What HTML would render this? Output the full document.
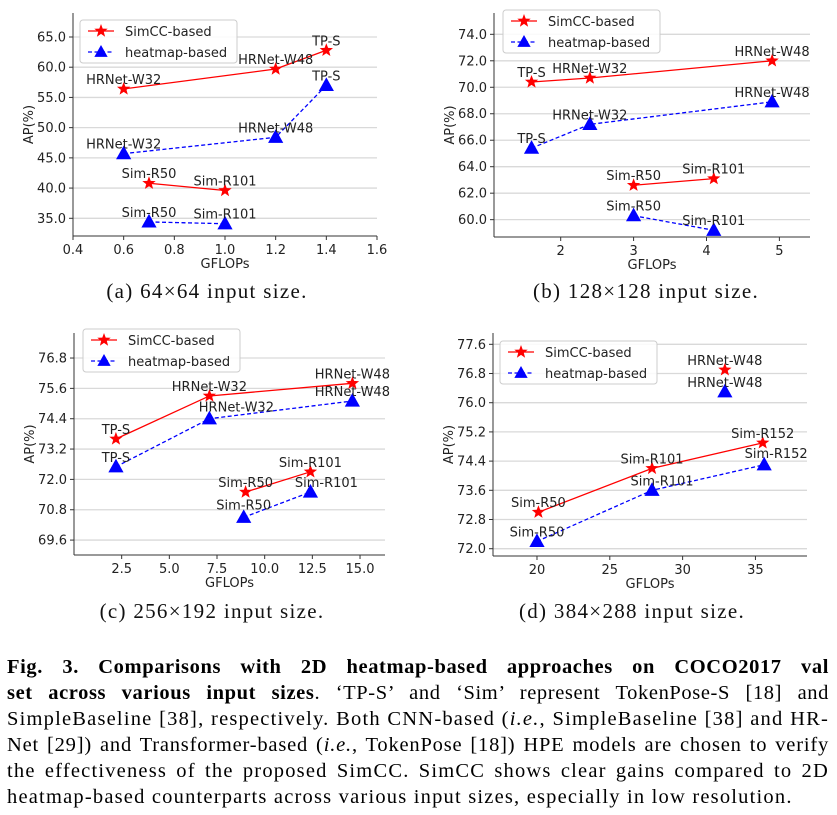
<!DOCTYPE html>
<html><head><meta charset="utf-8"><style>
html,body{margin:0;padding:0;background:#fff;}
body{width:837px;height:815px;position:relative;overflow:hidden;}
#charts{position:absolute;left:0;top:0;}
.cap{position:absolute;left:7px;width:822px;font-family:"Liberation Serif",serif;font-size:20.5px;letter-spacing:1.2px;line-height:26px;white-space:nowrap;text-align:justify;text-align-last:justify;}
.cap.last{text-align:left;text-align-last:left;}
</style></head><body>
<svg id="charts" width="837" height="640" xmlns="http://www.w3.org/2000/svg"></svg>
<div class="cap" style="top:654px;letter-spacing:0.6px"><b>Fig. 3. Comparisons with 2D heatmap-based approaches on COCO2017 val</b></div>
<div class="cap" style="top:680px;letter-spacing:0.6px"><b>set across various input sizes</b>. ‘TP-S’ and ‘Sim’ represent TokenPose-S [18] and</div>
<div class="cap" style="top:706px">SimpleBaseline [38], respectively. Both CNN-based (<i>i.e.</i>, SimpleBaseline [38] and HR-</div>
<div class="cap" style="top:732px;letter-spacing:0.8px">Net [29]) and Transformer-based (<i>i.e.</i>, TokenPose [18]) HPE models are chosen to verify</div>
<div class="cap" style="top:758px">the effectiveness of the proposed SimCC. SimCC shows clear gains compared to 2D</div>
<div class="cap last" style="top:784px">heatmap-based counterparts across various input sizes, especially in low resolution.</div>
<script>
// ---- data ----
const aSimX=[[0.6,1.2,1.4],[0.7,1.0]];
const aSimY=[[56.4,59.7,62.8],[40.8,39.6]];
const aSimN=[["HRNet-W32","HRNet-W48","TP-S"],["Sim-R50","Sim-R101"]];
const aHmX=[[0.6,1.2,1.4],[0.7,1.0]];
const aHmY=[[45.7,48.4,57.0],[34.4,34.1]];
const aHmN=[["HRNet-W32","HRNet-W48","TP-S"],["Sim-R50","Sim-R101"]];
const aXT=["0.4","0.6","0.8","1.0","1.2","1.4","1.6"];
const aYT=["35.0","40.0","45.0","50.0","55.0","60.0","65.0"];

const bSimX=[[1.6,2.4,4.9],[3.0,4.1]];
const bSimY=[[70.4,70.7,72.0],[62.6,63.1]];
const bSimN=[["TP-S","HRNet-W32","HRNet-W48"],["Sim-R50","Sim-R101"]];
const bHmX=[[1.6,2.4,4.9],[3.0,4.1]];
const bHmY=[[65.4,67.2,68.9],[60.3,59.2]];
const bHmN=[["TP-S","HRNet-W32","HRNet-W48"],["Sim-R50","Sim-R101"]];
const bXT=["2","3","4","5"];
const bYT=["60.0","62.0","64.0","66.0","68.0","70.0","72.0","74.0"];

const cSimX=[[2.2,7.1,14.6],[9.0,12.4]];
const cSimY=[[73.6,75.3,75.8],[71.5,72.3]];
const cSimN=[["TP-S","HRNet-W32","HRNet-W48"],["Sim-R50","Sim-R101"]];
const cHmX=[[2.2,7.1,14.6],[8.9,12.4]];
const cHmY=[[72.5,74.4,75.1],[70.5,71.5]];
const cHmN=[["TP-S","HRNet-W32","HRNet-W48"],["Sim-R50","Sim-R101"]];
const cXT=["2.5","5.0","7.5","10.0","12.5","15.0"];
const cYT=["69.6","70.8","72.0","73.2","74.4","75.6","76.8"];

const dSimX=[[20.1,27.9,35.5],[32.9]];
const dSimY=[[73.0,74.2,74.9],[76.9]];
const dSimN=[["Sim-R50","Sim-R101","Sim-R152"],["HRNet-W48"]];
const dHmX=[[20.0,27.9,35.6],[32.9]];
const dHmY=[[72.2,73.6,74.3],[76.3]];
const dHmN=[["Sim-R50","Sim-R101","Sim-R152"],["HRNet-W48"]];
const dXT=["20","25","30","35"];
const dYT=["72.0","72.8","73.6","74.4","75.2","76.0","76.8","77.6"];

const NS="http://www.w3.org/2000/svg";
const svg=document.getElementById('charts');
function el(tag,attrs,parent){const e=document.createElementNS(NS,tag);for(const k in attrs)e.setAttribute(k,attrs[k]);(parent||svg).appendChild(e);return e;}
function starPts(cx,cy,r){let p=[];for(let i=0;i<10;i++){const rr=i%2?r*0.42:r;const a=-Math.PI/2+i*Math.PI/5;p.push((cx+rr*Math.cos(a)).toFixed(1)+','+(cy+rr*Math.sin(a)).toFixed(1));}return p.join(' ');}
function triPts(cx,cy,r){return `${cx},${cy-r} ${cx-r*0.95},${cy+r*0.7} ${cx+r*0.95},${cy+r*0.7}`;}

function panel(id,P){
  const g=el('g',{});
  
  
  const X=v=>P.L+(v-P.x0)/(P.x1-P.x0)*(P.R-P.L);
  const Y=v=>P.B-(v-P.y0)/(P.y1-P.y0)*(P.B-P.T);
  const font='font-family:"DejaVu Sans","Liberation Sans",sans-serif;font-size:13px;fill:#222';
  P.yt.forEach(t=>{const y=Y(parseFloat(t));
    const gl=el('line',{x1:P.L,x2:P.R,y1:y,y2:y,stroke:'#d9d9d9','stroke-width':1.3},g);
    
    el('line',{x1:P.L-4,x2:P.L,y1:y,y2:y,stroke:'#333','stroke-width':1},g);
    const tx=el('text',{x:P.L-7,y:y+4.5,'text-anchor':'end',style:font},g);tx.textContent=t;
    });
  P.xt.forEach(t=>{const x=X(parseFloat(t));
    el('line',{x1:x,x2:x,y1:P.B,y2:P.B+4,stroke:'#333','stroke-width':1},g);
    const tx=el('text',{x:x,y:P.B+18,'text-anchor':'middle',style:font},g);tx.textContent=t;
    });
  el('line',{x1:P.L,x2:P.L,y1:P.T,y2:P.B,stroke:'#333','stroke-width':1},g);
  el('line',{x1:P.L,x2:P.R,y1:P.B,y2:P.B,stroke:'#333','stroke-width':1},g);
  const xl=el('text',{x:(P.L+P.R)/2,y:P.B+32,'text-anchor':'middle',style:font},g);xl.textContent='GFLOPs';
  
  const ym=(P.T+P.B)/2;
  const yl=el('text',{x:P.L-40,y:ym,'text-anchor':'middle',transform:`rotate(-90 ${P.L-40} ${ym})`,style:font},g);yl.textContent='AP(%)';
  
  function series(xs,ys,ns,color,dash,marker,lbl){
    xs.forEach((grp,gi)=>{
      if(P.noLine&&P.noLine[gi]){}else{
      const pts=grp.map((x,i)=>X(x)+','+Y(ys[gi][i])).join(' ');
      const pl=el('polyline',{points:pts,fill:'none',stroke:color,'stroke-width':1.3,'stroke-dasharray':dash},g);
      }
      grp.forEach((x,i)=>{const px=X(x),py=Y(ys[gi][i]);
        const m=marker==='star'?el('polygon',{points:starPts(px,py,7),fill:color},g):el('polygon',{points:triPts(px,py,8),fill:color},g);
        
        const off=(P.off&&P.off[lbl+ns[gi][i]])||[0,0];
        const t=el('text',{x:px+off[0],y:py-5+off[1],'text-anchor':'middle',style:font},g);t.textContent=ns[gi][i];
        });
    });
  }
  series(P.hx,P.hy,P.hn,'#0000ff','4,2.5','tri','heatmap');
  series(P.sx,P.sy,P.sn,'#ff0000','none','star','simcc');
  const lg=el('g',{},g);
  const [lx,ly]=P.leg;
  el('rect',{x:lx,y:ly,width:157,height:43,rx:3,fill:'#fff','fill-opacity':0.85,stroke:'#ccc'},lg);
  el('line',{x1:lx+8,x2:lx+34,y1:ly+11,y2:ly+11,stroke:'#ff0000','stroke-width':1.3},lg);
  el('polygon',{points:starPts(lx+21,ly+11,7),fill:'#ff0000'},lg);
  const t1=el('text',{x:lx+45,y:ly+16,style:font},lg);t1.textContent='SimCC-based';
  
  el('line',{x1:lx+8,x2:lx+34,y1:ly+32,y2:ly+32,stroke:'#0000ff','stroke-width':1.3,'stroke-dasharray':'4,2.5'},lg);
  el('polygon',{points:triPts(lx+21,ly+32,7),fill:'#0000ff'},lg);
  const t2=el('text',{x:lx+45,y:ly+37,style:font},lg);t2.textContent='heatmap-based';
  
  const c=el('text',{x:P.cap[0],y:P.cap[1],'text-anchor':'middle',style:'font-family:"Liberation Serif",serif;font-size:21px;letter-spacing:1.3px;fill:#111'},g);
  c.textContent=P.capText;
}
panel('a',{L:73,R:377,T:13,B:236,x0:0.4,x1:1.6,y0:32.07,y1:68.97,xt:aXT,yt:aYT,sx:aSimX,sy:aSimY,sn:aSimN,hx:aHmX,hy:aHmY,hn:aHmN,leg:[80,20],cap:[207,298],capText:'(a) 64×64 input size.'});
panel('b',{L:494,R:810,T:13,B:237,x0:1.085,x1:5.42,y0:58.69,y1:75.61,xt:bXT,yt:bYT,sx:bSimX,sy:bSimY,sn:bSimN,hx:bHmX,hy:bHmY,hn:bHmN,leg:[503,10],cap:[646,298],capText:'(b) 128×128 input size.'});
panel('c',{L:74,R:385,T:333,B:555,x0:0.0,x1:16.31,y0:69.01,y1:77.79,xt:cXT,yt:cYT,sx:cSimX,sy:cSimY,sn:cSimN,hx:cHmX,hy:cHmY,hn:cHmN,leg:[83,329],cap:[212,618],capText:'(c) 256×192 input size.',off:{'heatmapHRNet-W32':[27,-2],'heatmapSim-R50':[0,-3],'heatmapSim-R101':[16,0]}});
panel('d',{L:493,R:807,T:333,B:556,x0:16.98,x1:38.54,y0:71.80,y1:77.91,xt:dXT,yt:dYT,sx:dSimX,sy:dSimY,sn:dSimN,hx:dHmX,hy:dHmY,hn:dHmN,noLine:[false,true],leg:[500,341],cap:[632,618],capText:'(d) 384×288 input size.',off:{'heatmapSim-R101':[10,0],'heatmapSim-R152':[12,-2]}});
</script>
</body></html>
